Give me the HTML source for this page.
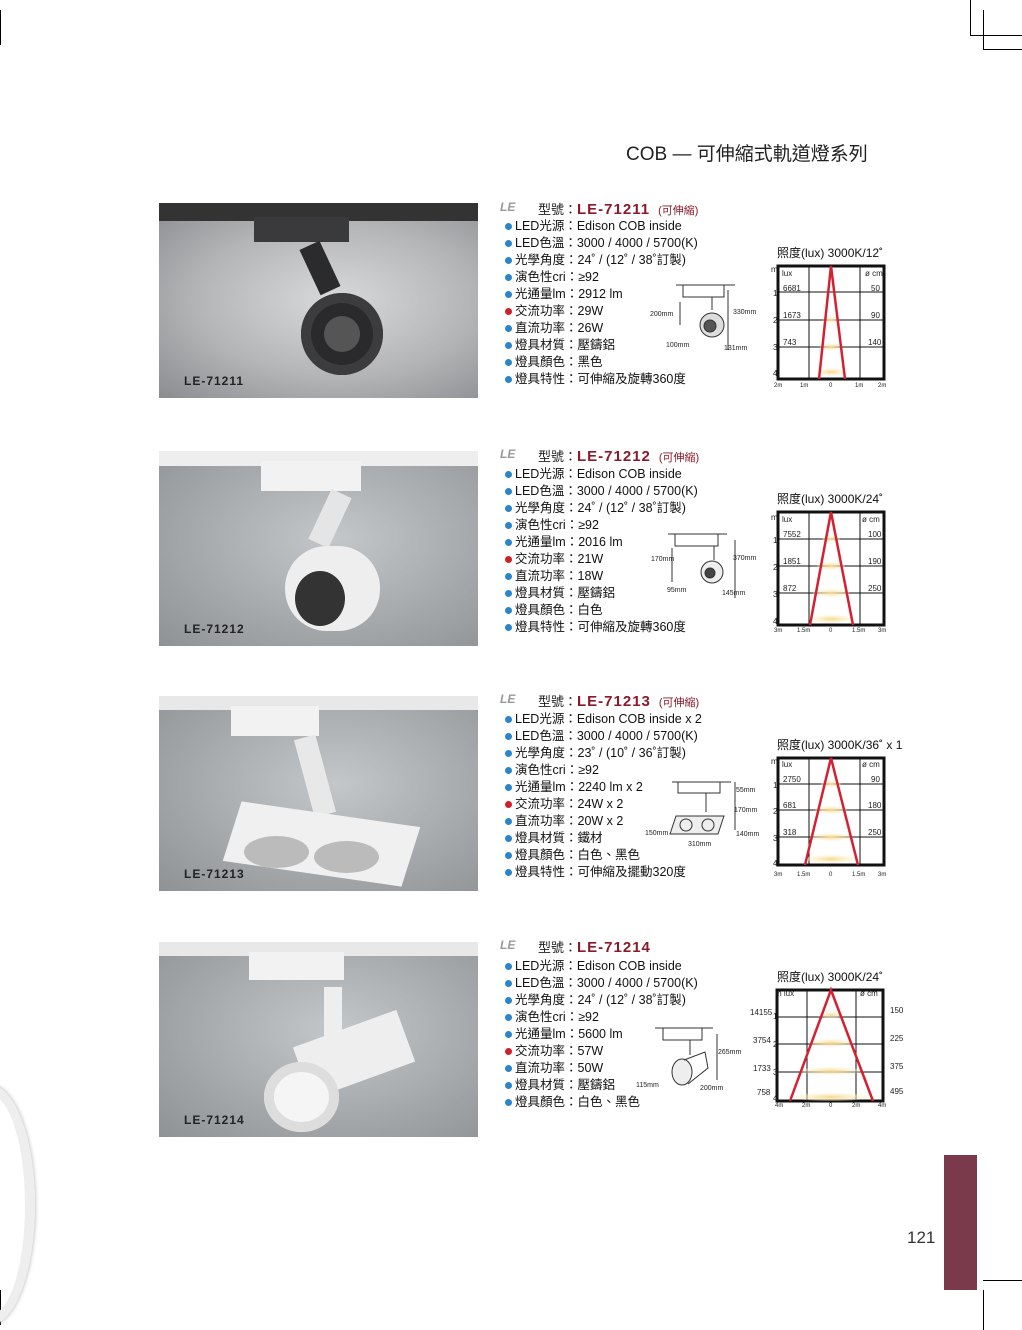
<!DOCTYPE html>
<html><head><meta charset="utf-8"><style>
body{margin:0;width:1022px;height:1330px;position:relative;background:#fff;overflow:hidden;font-family:"Liberation Sans","Noto Sans CJK TC",sans-serif;}
.a{position:absolute;white-space:nowrap;}
.ph{position:absolute;left:159px;width:319px;height:195px;background:radial-gradient(ellipse at 55% 45%,#c4c7c9 0%,#a3a7aa 60%,#8e9295 100%);overflow:hidden;}
.lbl{position:absolute;left:25px;bottom:10px;font-weight:bold;font-size:12px;color:#222;letter-spacing:1px;}
.tt{position:absolute;left:538px;font-size:13px;color:#222;}
.tt b{color:#8b1a2a;font-size:15px;letter-spacing:1px;}
.tt i{font-style:normal;color:#8b1a2a;font-size:11px;margin-left:8px;}
.le{position:absolute;left:500px;font-size:12px;font-style:italic;color:#999;font-weight:bold;}
.sp{position:absolute;left:505px;font-size:12.5px;line-height:17px;color:#111;}
.sp div:before{content:"";display:inline-block;width:7px;height:7px;border-radius:50%;background:#2a86c8;margin-right:3px;vertical-align:0;}
.sp div.r:before{background:#d0202a;}
.ct{position:absolute;font-size:12px;color:#111;}
</style></head><body>
<div class="a" style="left:0;top:10px;width:1px;height:35px;background:#000"></div>
<div class="a" style="left:970px;top:0;width:1px;height:35px;background:#000"></div>
<div class="a" style="left:983px;top:10px;width:1px;height:40px;background:#000"></div>
<div class="a" style="left:983px;top:49px;width:39px;height:1px;background:#000"></div>
<div class="a" style="left:970px;top:35px;width:52px;height:1px;background:#000"></div>
<div class="a" style="left:983px;top:1290px;width:1px;height:40px;background:#000"></div>
<div class="a" style="left:983px;top:1280px;width:39px;height:1px;background:#000"></div>
<div class="a" style="left:0;top:1290px;width:1px;height:35px;background:#000"></div>
<div class="a" style="left:944px;top:1155px;width:33px;height:135px;background:#7b3a4c"></div>
<div class="a" style="left:907px;top:1228px;font-size:17px;color:#333">121</div>
<div class="a" style="left:-55px;top:1085px;width:70px;height:220px;border-radius:50%;border:10px solid #eee;box-shadow:0 0 4px #aaa"></div>
<div class="a" style="left:626px;top:139px;font-size:19px;color:#222">COB — 可伸縮式軌道燈系列</div>

<div class="ph" style="top:203px;background:radial-gradient(ellipse at 55% 50%,#d8d9da 0%,#b3b5b7 55%,#8a8c8f 100%)">
<div class="a" style="left:0;top:0;width:319px;height:18px;background:#333"></div>
<div class="a" style="left:95px;top:14px;width:95px;height:25px;background:#3a3a3c"></div>
<div class="a" style="left:150px;top:40px;width:22px;height:50px;background:#2b2b2d;transform:rotate(-25deg)"></div>
<div class="a" style="left:142px;top:90px;width:82px;height:82px;border-radius:50%;background:#2a2a2c;box-shadow:inset 0 0 0 10px #3c3c3e"></div>
<div class="a" style="left:165px;top:113px;width:36px;height:36px;border-radius:50%;background:#555"></div>
<div class="lbl">LE-71211</div></div>
<div class="ph" style="top:451px">
<div class="a" style="left:0;top:0;width:319px;height:15px;background:#eee"></div>
<div class="a" style="left:102px;top:10px;width:100px;height:30px;background:#f2f2f2"></div>
<div class="a" style="left:160px;top:40px;width:22px;height:55px;background:#e5e5e5;transform:rotate(25deg)"></div>
<div class="a" style="left:126px;top:95px;width:95px;height:85px;border-radius:42px;background:#eee"></div>
<div class="a" style="left:136px;top:120px;width:50px;height:55px;border-radius:50%;background:#333"></div>
<div class="lbl">LE-71212</div></div>
<div class="ph" style="top:696px">
<div class="a" style="left:0;top:0;width:319px;height:14px;background:#e8e8e8"></div>
<div class="a" style="left:72px;top:10px;width:88px;height:30px;background:#f2f2f2"></div>
<div class="a" style="left:145px;top:40px;width:22px;height:80px;background:#e8e8e8;transform:rotate(-15deg)"></div>
<div class="a" style="left:70px;top:118px;width:185px;height:60px;background:#f0f0f0;transform:skewX(-10deg) rotate(8deg)"></div>
<div class="a" style="left:85px;top:140px;width:65px;height:32px;border-radius:50%;background:#bbb"></div>
<div class="a" style="left:155px;top:145px;width:65px;height:32px;border-radius:50%;background:#bbb"></div>
<div class="lbl">LE-71213</div></div>
<div class="ph" style="top:942px">
<div class="a" style="left:0;top:0;width:319px;height:14px;background:#e8e8e8"></div>
<div class="a" style="left:90px;top:10px;width:95px;height:28px;background:#f2f2f2"></div>
<div class="a" style="left:165px;top:45px;width:18px;height:60px;background:#eee"></div>
<div class="a" style="left:140px;top:85px;width:110px;height:55px;background:#eee;transform:rotate(-20deg)"></div>
<div class="a" style="left:105px;top:120px;width:75px;height:70px;border-radius:50%;background:#f5f5f5;box-shadow:inset 0 0 0 10px #ddd"></div>
<div class="lbl">LE-71214</div></div>

<div class="le" style="top:200px">LE</div><div class="tt" style="top:199px">型號：<b>LE-71211</b><i>(可伸縮)</i></div>
<div class="sp" style="top:218px">
<div>LED光源：Edison COB inside</div><div>LED色溫：3000 / 4000 / 5700(K)</div><div>光學角度：24˚ / (12˚ / 38˚訂製)</div><div>演色性cri：≥92</div><div>光通量lm：2912 lm</div><div class="r">交流功率：29W</div><div>直流功率：26W</div><div>燈具材質：壓鑄鋁</div><div>燈具顏色：黑色</div><div>燈具特性：可伸縮及旋轉360度</div></div>
<div class="le" style="top:447px">LE</div><div class="tt" style="top:446px">型號：<b>LE-71212</b><i>(可伸縮)</i></div>
<div class="sp" style="top:466px">
<div>LED光源：Edison COB inside</div><div>LED色溫：3000 / 4000 / 5700(K)</div><div>光學角度：24˚ / (12˚ / 38˚訂製)</div><div>演色性cri：≥92</div><div>光通量lm：2016 lm</div><div class="r">交流功率：21W</div><div>直流功率：18W</div><div>燈具材質：壓鑄鋁</div><div>燈具顏色：白色</div><div>燈具特性：可伸縮及旋轉360度</div></div>
<div class="le" style="top:692px">LE</div><div class="tt" style="top:691px">型號：<b>LE-71213</b><i>(可伸縮)</i></div>
<div class="sp" style="top:711px">
<div>LED光源：Edison COB inside x 2</div><div>LED色溫：3000 / 4000 / 5700(K)</div><div>光學角度：23˚ / (10˚ / 36˚訂製)</div><div>演色性cri：≥92</div><div>光通量lm：2240 lm x 2</div><div class="r">交流功率：24W x 2</div><div>直流功率：20W x 2</div><div>燈具材質：鐵材</div><div>燈具顏色：白色、黑色</div><div>燈具特性：可伸縮及擺動320度</div></div>
<div class="le" style="top:938px">LE</div><div class="tt" style="top:937px">型號：<b>LE-71214</b></div>
<div class="sp" style="top:958px">
<div>LED光源：Edison COB inside</div><div>LED色溫：3000 / 4000 / 5700(K)</div><div>光學角度：24˚ / (12˚ / 38˚訂製)</div><div>演色性cri：≥92</div><div>光通量lm：5600 lm</div><div class="r">交流功率：57W</div><div>直流功率：50W</div><div>燈具材質：壓鑄鋁</div><div>燈具顏色：白色、黑色</div></div>

<div class="ct" style="left:777px;top:244px">照度(lux) 3000K/12˚</div>
<div class="ct" style="left:777px;top:490px">照度(lux) 3000K/24˚</div>
<div class="ct" style="left:777px;top:736px">照度(lux) 3000K/36˚ x 1</div>
<div class="ct" style="left:777px;top:968px">照度(lux) 3000K/24˚</div>

<svg class="a" style="left:0;top:0" width="1022" height="1330" font-family="Liberation Sans" font-size="8" fill="#222">
<defs><radialGradient id="y"><stop offset="0" stop-color="#f7d88a"/><stop offset="1" stop-color="#fff3d0" stop-opacity="0.3"/></radialGradient></defs>
<g>
<rect x="778" y="266" width="106" height="113" fill="#fff" stroke="#111" stroke-width="3"/>
<path d="M809 266V379M860 266V379M778 292H884M778 320H884M778 347H884" stroke="#111" stroke-width="1"/>
<ellipse cx="831" cy="320" rx="8" ry="3" fill="url(#y)"/><ellipse cx="831" cy="347" rx="11" ry="3.5" fill="url(#y)"/><ellipse cx="831" cy="372" rx="14" ry="4" fill="url(#y)"/>
<path d="M819 379L831 266L845 379" fill="none" stroke="#d42030" stroke-width="2.5"/>
<text x="782" y="276">lux</text><text x="865" y="276">ø cm</text><text x="771" y="272">m</text>
<text x="783" y="291">6681</text><text x="871" y="291">50</text><text x="783" y="318">1673</text><text x="871" y="318">90</text><text x="783" y="345">743</text><text x="868" y="345">140</text>
<text x="773" y="296">1</text><text x="773" y="323">2</text><text x="773" y="350">3</text><text x="773" y="376">4</text>
<text x="774" y="387" font-size="6">2m</text><text x="800" y="387" font-size="6">1m</text><text x="829" y="387" font-size="6">0</text><text x="855" y="387" font-size="6">1m</text><text x="878" y="387" font-size="6">2m</text>
</g>
<g>
<rect x="778" y="512" width="106" height="113" fill="#fff" stroke="#111" stroke-width="3"/>
<path d="M809 512V625M860 512V625M778 539H884M778 566H884M778 593H884" stroke="#111"/>
<ellipse cx="831" cy="539" rx="9" ry="3" fill="url(#y)"/><ellipse cx="831" cy="566" rx="14" ry="4" fill="url(#y)"/><ellipse cx="831" cy="593" rx="18" ry="4" fill="url(#y)"/><ellipse cx="831" cy="619" rx="22" ry="4" fill="url(#y)"/>
<path d="M810 625L831 512L853 625" fill="none" stroke="#d42030" stroke-width="2.5"/>
<text x="782" y="522">lux</text><text x="862" y="522">ø cm</text><text x="771" y="520">m</text>
<text x="783" y="537">7552</text><text x="868" y="537">100</text><text x="783" y="564">1851</text><text x="868" y="564">190</text><text x="783" y="591">872</text><text x="868" y="591">250</text>
<text x="773" y="543">1</text><text x="773" y="570">2</text><text x="773" y="597">3</text><text x="773" y="624">4</text>
<text x="774" y="632" font-size="6">3m</text><text x="797" y="632" font-size="6">1.5m</text><text x="829" y="632" font-size="6">0</text><text x="852" y="632" font-size="6">1.5m</text><text x="878" y="632" font-size="6">3m</text>
</g>
<g>
<rect x="778" y="758" width="106" height="107" fill="#fff" stroke="#111" stroke-width="3"/>
<path d="M809 758V865M860 758V865M778 784H884M778 810H884M778 837H884" stroke="#111"/>
<ellipse cx="831" cy="784" rx="10" ry="3" fill="url(#y)"/><ellipse cx="831" cy="810" rx="16" ry="4" fill="url(#y)"/><ellipse cx="831" cy="837" rx="21" ry="4" fill="url(#y)"/><ellipse cx="831" cy="859" rx="26" ry="4" fill="url(#y)"/>
<path d="M805 865L831 758L858 865" fill="none" stroke="#d42030" stroke-width="2.5"/>
<text x="782" y="767">lux</text><text x="862" y="767">ø cm</text><text x="771" y="764">m</text>
<text x="783" y="782">2750</text><text x="871" y="782">90</text><text x="783" y="808">681</text><text x="868" y="808">180</text><text x="783" y="835">318</text><text x="868" y="835">250</text>
<text x="773" y="788">1</text><text x="773" y="814">2</text><text x="773" y="841">3</text><text x="773" y="866">4</text>
<text x="774" y="876" font-size="6">3m</text><text x="797" y="876" font-size="6">1.5m</text><text x="829" y="876" font-size="6">0</text><text x="852" y="876" font-size="6">1.5m</text><text x="878" y="876" font-size="6">3m</text>
</g>
<g>
<rect x="777" y="990" width="106" height="111" fill="#fff" stroke="#111" stroke-width="3"/>
<path d="M807 990V1101M856 990V1101M777 1017H883M777 1044H883M777 1072H883" stroke="#111"/>
<ellipse cx="831" cy="1015" rx="12" ry="3" fill="url(#y)"/><ellipse cx="831" cy="1043" rx="22" ry="4" fill="url(#y)"/><ellipse cx="831" cy="1071" rx="30" ry="4" fill="url(#y)"/><ellipse cx="831" cy="1097" rx="38" ry="4" fill="url(#y)"/>
<path d="M790 1101L831 990L873 1101" fill="none" stroke="#d42030" stroke-width="2.5"/>
<text x="775" y="996">m lux</text><text x="860" y="996">ø cm</text>
<text x="750" y="1015">14155</text><text x="753" y="1043">3754</text><text x="753" y="1071">1733</text><text x="757" y="1095">758</text>
<text x="773" y="1019">1</text><text x="773" y="1047">2</text><text x="773" y="1075">3</text><text x="773" y="1101">4</text>
<text x="890" y="1013">150</text><text x="890" y="1041">225</text><text x="890" y="1069">375</text><text x="890" y="1094">495</text>
<text x="775" y="1107" font-size="6">4m</text><text x="802" y="1107" font-size="6">2m</text><text x="829" y="1107" font-size="6">0</text><text x="852" y="1107" font-size="6">2m</text><text x="878" y="1107" font-size="6">4m</text>
</g>
<g stroke="#333" fill="none" stroke-width="1">
<path d="M676 285H735M683 285V297H724V285M680 302V325M728 290V350M712 297V310"/><circle cx="712" cy="325" r="12" fill="#ddd"/><circle cx="710" cy="326" r="6" fill="#555"/>
<path d="M668 534H727M675 534V546H718V534M672 548V582M735 540V598M714 546V560"/><circle cx="712" cy="572" r="11" fill="#eee"/><circle cx="710" cy="573" r="5" fill="#444"/>
<path d="M672 782H731M678 782V793H720V782M735 782V830M706 793V812"/><path d="M676 816H724L718 834H670Z" fill="#eee"/><circle cx="686" cy="825" r="6"/><circle cx="708" cy="825" r="6"/>
<path d="M655 1028H713M663 1028V1040H702V1028M717 1034V1080M690 1040V1055"/><ellipse cx="682" cy="1072" rx="10" ry="13" fill="#eee"/><path d="M684 1060L705 1052L708 1068L688 1084"/>
</g>
<g font-size="7">
<text x="650" y="316">200mm</text><text x="733" y="314">330mm</text><text x="666" y="347">100mm</text><text x="724" y="350">131mm</text>
<text x="651" y="561">170mm</text><text x="733" y="560">370mm</text><text x="667" y="592">95mm</text><text x="722" y="595">145mm</text>
<text x="736" y="792">55mm</text><text x="734" y="812">170mm</text><text x="645" y="835">150mm</text><text x="736" y="836">140mm</text><text x="688" y="846">310mm</text>
<text x="718" y="1054">265mm</text><text x="636" y="1087">115mm</text><text x="700" y="1090">200mm</text>
</g>
</svg>
</body></html>
